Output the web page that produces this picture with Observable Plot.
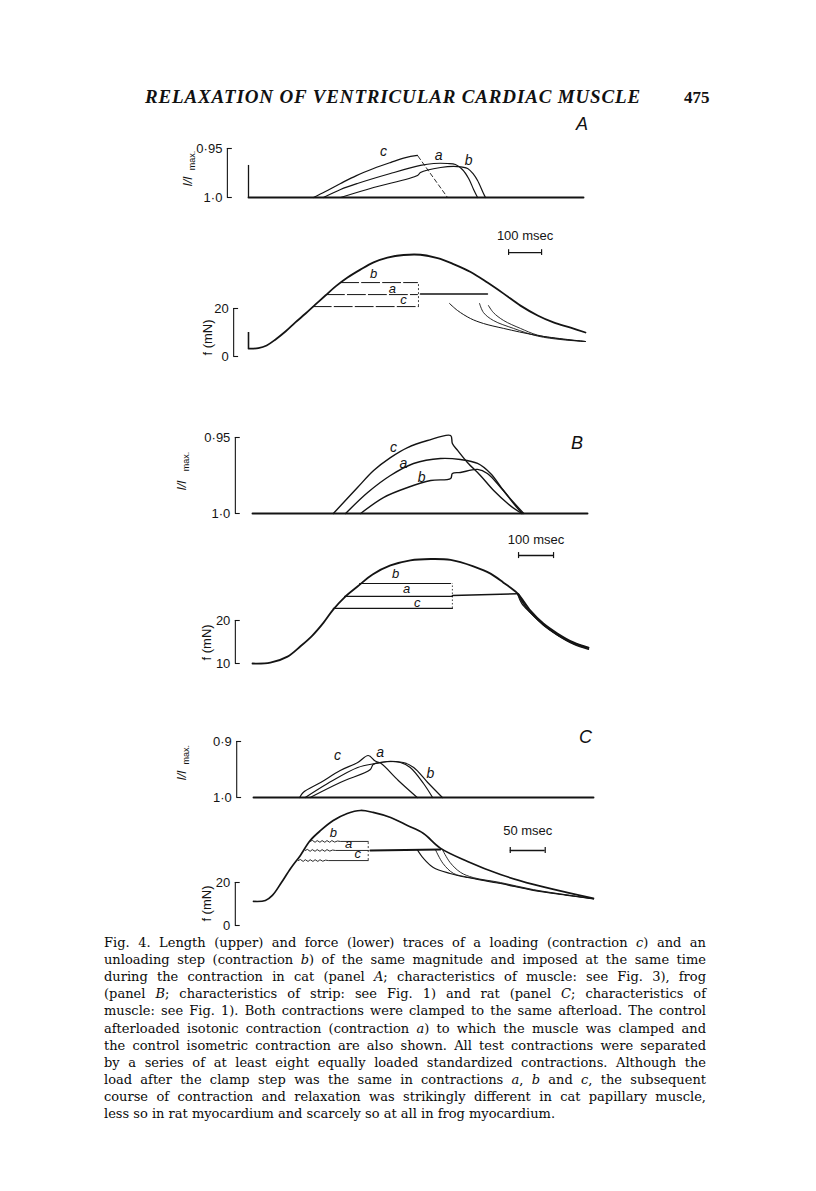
<!DOCTYPE html>
<html><head><meta charset="utf-8">
<script src="https://cdn.jsdelivr.net/npm/d3@7"></script>
<script src="https://cdn.jsdelivr.net/npm/@observablehq/plot@0.6"></script>
<style>
html,body{margin:0;padding:0;background:#fff;}
#page{position:relative;width:816px;height:1191px;overflow:hidden;background:#fff;color:#111;}
.abs{position:absolute;white-space:nowrap;}
.hdr{font-family:"Liberation Serif","DejaVu Serif",serif;font-weight:bold;font-style:italic;font-size:19px;line-height:19px;}
.pno{font-family:"Liberation Serif","DejaVu Serif",serif;font-size:17px;line-height:17px;font-weight:bold;}
.pl{font-family:"Liberation Sans",Arial,sans-serif;font-style:italic;font-size:18px;line-height:18px;}
.cap{font-family:"DejaVu Serif",serif;font-size:13px;line-height:17.1px;left:104px;color:#0a0a0a;}
</style></head><body><div id="page"></div>
<script>
// ---------- DATA (time in ms, length as l/lmax, force in mN) ----------
// Panel A (cat)
const lenA_base = [[0,1],[1015,1]];
const lenA_c = [[197,1],[233,0.9939],[279,0.9857],[327,0.9776],[379,0.9704],[430,0.9643],[476,0.9592],[512,0.9571]];
const lenA_cFall = [[514,0.958],[603,1]];
const lenA_a = [[227,1],[279,0.9918],[330,0.9857],[430,0.9755],[521,0.9673],[561,0.9653],[603,0.9653],[627,0.9663],[648,0.9714],[667,0.9806],[682,0.9918],[694,1]];
const lenA_b = [[279,1],[379,0.9898],[512,0.9776],[521,0.9745],[582,0.9694],[633,0.9684],[664,0.9704],[682,0.9765],[694,0.9827],[712,0.9959],[718,1]];
const lenA_labels = [[409,0.953,"c"],[576,0.957,"a"],[667,0.9622,"b"]];
const forceA_iso = [[0,3.3],[12,3.3],[30,3.5],[55,4.6],[82,7.1],[112,10.4],[142,14.2],[173,17.9],[203,21.7],[233,25.4],[264,29.2],[300,32.9],[339,36.2],[379,39.2],[421,41.2],[470,42.3],[521,42.4],[573,41.0],[621,38.5],[673,35.2],[724,30.8],[773,26.2],[824,21.2],[876,17.1],[924,14.2],[976,12.0],[1021,10]];
const forceA_clampB = [[279,30.8],[512,30.8]];
const forceA_clampA = [[236,25.8],[512,25.8]];
const forceA_clampC = [[196,20.8],[515,20.8]];
const forceA_iso_a = [[521,26],[724,26]];
const forceA_relaxC = [[609,22.1],[633,19.2],[673,15.8],[712,13.75],[773,11.7],[876,8.75],[1021,6.25]];
const forceA_relaxA = [[700,22.1],[712,18.3],[742,15.0],[803,11.7],[876,8.5],[950,7.0],[1021,6.25]];
const forceA_relaxB = [[727,21.25],[742,18.3],[773,15.0],[824,11.7],[876,8.9],[950,7.2],[1021,6.25]];
const forceA_labels = [[379,34.6,"b"],[436,28.3,"a"],[470,23.75,"c"]];

// Panel B (frog)
const lenB_base = [[0,1],[957,1]];
const lenB_c = [[231,1],[300,0.9829],[346,0.9717],[394,0.9632],[443,0.9566],[500,0.952],[566,0.9487],[571,0.9539],[586,0.9585],[614,0.9664],[651,0.975],[689,0.9849],[729,0.9934],[760,0.9987],[770,1]];
const lenB_a = [[266,1],[329,0.9862],[394,0.975],[460,0.9671],[537,0.9638],[594,0.9645],[643,0.9671],[680,0.9737],[717,0.9849],[746,0.9934],[770,1]];
const lenB_b = [[309,1],[374,0.9895],[443,0.9829],[509,0.9783],[566,0.977],[571,0.9737],[594,0.973],[643,0.971],[671,0.9737],[709,0.9829],[746,0.9928],[775,1]];
const lenB_labels = [[403,0.9566,"c"],[431,0.9671,"a"],[483,0.9763,"b"]];
const forceB_iso = [[0,10],[51,10.2],[100,11.6],[137,14.0],[171,16.5],[203,19.5],[231,22.6],[263,25.4],[300,27.9],[343,30.7],[394,32.8],[451,34.0],[509,34.3],[566,34.1],[631,32.6],[680,30.9],[717,28.8],[757,26.3],[794,22.3],[831,19.3],[871,17.0],[917,14.9],[960,13.7]];
const forceB_clampB = [[306,28.6],[566,28.6]];
const forceB_clampA = [[263,25.6],[571,25.6]];
const forceB_clampC = [[231,22.8],[571,22.8]];
const forceB_iso_a = [[571,25.8],[757,26.2]];
const forceB_relaxC = [[757,26.2],[769,24.0],[794,21.8],[831,18.9],[871,16.6],[917,14.5],[960,13.3]];
const forceB_relaxA = [[757,26.2],[774,23.9],[800,21.3],[835,18.7],[875,16.4],[917,14.6],[960,13.5]];
const forceB_relaxB = [[760,26.2],[780,23.3],[806,20.9],[840,18.5],[880,16.3],[920,14.7],[960,13.6]];
const forceB_labels = [[409,30.9,"b"],[440,27.4,"a"],[471,24.2,"c"]];

// Panel C (rat)
const lenC_base = [[0,1],[486,1]];
const lenC_c = [[66,1],[71,0.9911],[96,0.9732],[124,0.9518],[149,0.9375],[164,0.925],[174,0.935],[182,0.939],[207,0.9696],[234,1]];
const lenC_a = [[74,1],[106,0.975],[149,0.9464],[174,0.9393],[191,0.9357],[210,0.9375],[224,0.9464],[243,0.975],[256,1]];
const lenC_b = [[81,1],[124,0.9732],[167,0.95],[171,0.9411],[181,0.9375],[214,0.9375],[229,0.9464],[249,0.9732],[270,1]];
const lenC_labels = [[120,0.925,"c"],[181,0.9196,"a"],[253,0.9571,"b"]];
const forceC_iso = [[0,11.2],[17,11.6],[27,14.0],[39,19.5],[53,26.5],[67,32.6],[81,39.5],[96,44.2],[114,48.8],[134,52.1],[153,53.5],[171,52.6],[196,50.2],[220,46.5],[243,42.8],[267,36.0],[306,29.8],[353,23.7],[400,19.1],[449,15.3],[486,12.6]];
const forceC_clampB = [[81,39.1],[84,39.6],[88,38.7],[91,39.5],[95,38.7],[98,39.5],[102,38.7],[105,39.5],[109,38.7],[112,39.5],[116,38.8],[120,39.3],[124,39.1],[164,39.1]];
const forceC_clampA = [[74,34.9],[77,35.4],[81,34.5],[84,35.3],[88,34.5],[91,35.3],[95,34.5],[98,35.3],[102,34.5],[105,35.3],[109,34.6],[113,35.1],[117,34.9],[164,34.9]];
const forceC_clampC = [[64,30.2],[67,30.7],[71,29.8],[74,30.6],[78,29.8],[81,30.6],[85,29.8],[88,30.6],[92,29.8],[95,30.6],[99,29.9],[103,30.4],[107,30.2],[164,30.2]];
const forceC_iso_a = [[167,34.9],[267,35.3]];
const forceC_relaxC = [[234,35.3],[243,31.2],[257,27.0],[281,24.2],[306,22.3],[353,19.5],[400,16.3],[449,14.0],[486,12.3]];
const forceC_relaxA = [[260,35.3],[271,28.8],[286,24.2],[306,22.5],[353,19.7],[400,16.5],[449,14.1],[486,12.4]];
const forceC_relaxB = [[270,35.3],[281,29.3],[296,24.7],[314,22.3],[353,20.0],[400,16.7],[449,14.2],[486,12.5]];
const forceC_labels = [[114,43.3,"b"],[136,38.1,"a"],[149,33.5,"c"]];

// Tick labels
const lenTicksAB = ["1·0","0·95"];
const lenTicksC = ["1·0","0·9"];
const forceTicksA = ["0","20"];
const forceTicksB = ["10","20"];
const forceTicksC = ["0","20"];

const captionLines = [
 "Fig. 4. Length (upper) and force (lower) traces of a loading (contraction <i>c</i>) and an",
 "unloading step (contraction <i>b</i>) of the same magnitude and imposed at the same time",
 "during the contraction in cat (panel <i>A</i>; characteristics of muscle: see Fig. 3), frog",
 "(panel <i>B</i>; characteristics of strip: see Fig. 1) and rat (panel <i>C</i>; characteristics of",
 "muscle: see Fig. 1). Both contractions were clamped to the same afterload. The control",
 "afterloaded isotonic contraction (contraction <i>a</i>) to which the muscle was clamped and",
 "the control isometric contraction are also shown. All test contractions were separated",
 "by a series of at least eight equally loaded standardized contractions. Although the",
 "load after the clamp step was the same in contractions <i>a</i>, <i>b</i> and <i>c</i>, the subsequent",
 "course of contraction and relaxation was strikingly different in cat papillary muscle,",
 "less so in rat myocardium and scarcely so at all in frog myocardium."
];

// ---------- DRAWING ----------
const ink = "#141414";
const W = 816;
const page = document.getElementById("page");

function trace({top, height, px0, px1, pyLo, pyHi, xDomain, yDomain, marks}) {
  const svg = Plot.plot({
    width: W, height,
    marginLeft: px0, marginRight: W - px1,
    marginTop: pyHi - top, marginBottom: top + height - pyLo,
    x: {domain: xDomain, axis: null},
    y: {domain: yDomain, axis: null},
    style: {background: "transparent", overflow: "visible", color: ink,
            fontFamily: "'Liberation Sans', Arial, sans-serif", fontSize: "13px"},
    marks
  });
  svg.style.position = "absolute";
  svg.style.left = "0px";
  svg.style.top = top + "px";
  page.appendChild(svg);
}
const L = (data, o = {}) => Plot.line(data, {x: d => d[0], y: d => d[1], stroke: ink, strokeWidth: 1.2, curve: "catmull-rom", ...o});
const labs = (data, o = {}) => Plot.text(data, {x: d => d[0], y: d => d[1], text: d => d[2], fontStyle: "italic", fontSize: 14, fill: ink, ...o});
function bracket(tb, lo, hi, serif, labels) {
  return [
    Plot.ruleX([tb], {y1: lo, y2: hi, stroke: ink, strokeWidth: 1.1}),
    Plot.ruleY([lo, hi], {y: d => d, x1: tb, x2: tb + serif, stroke: ink, strokeWidth: 1.1}),
    Plot.text([lo, hi], {x: tb, y: d => d, text: (d, i) => labels[i], textAnchor: "end", dx: -5, fontSize: 13, fill: ink})
  ];
}
function scaleBar(t0, len, y, h, label, ty) {
  return [
    Plot.ruleY([y], {y: d => d, x1: t0, x2: t0 + len, stroke: ink, strokeWidth: 1.4}),
    Plot.ruleX([t0, t0 + len], {x: d => d, y1: y - h, y2: y + h, stroke: ink, strokeWidth: 1.2}),
    Plot.text([label], {x: t0 + len / 2, y: ty, text: d => d, fontSize: 13, fill: ink})
  ];
}
function lenTitle(t, yl, ym) {
  return [
    Plot.text(["l/l"], {x: t, y: yl, text: d => d, rotate: -90, fontStyle: "italic", fontSize: 13, fill: ink}),
    Plot.text(["max."], {x: t, y: ym, text: d => d, rotate: -90, fontSize: 9, dx: 5, fill: ink})
  ];
}
function forceTitle(t, y) {
  return [Plot.text(["f (mN)"], {x: t, y, text: d => d, rotate: -90, fontSize: 13, fill: ink})];
}

// Panel A length
trace({top: 115, height: 95, px0: 248, px1: 583, pyLo: 197, pyHi: 148, xDomain: [0, 1015], yDomain: [1.0, 0.95], marks: [
  ...bracket(-64, 1.0, 0.95, 15, lenTicksAB),
  ...lenTitle(-185, 0.9837, 0.9622),
  Plot.ruleX([0], {y1: 1.0, y2: 0.9673, stroke: ink, strokeWidth: 1.3}),
  L(lenA_base, {strokeWidth: 1.9, curve: "linear"}),
  L(lenA_c, {strokeWidth: 1.3}),
  L(lenA_a, {strokeWidth: 1.2}),
  L(lenA_b, {strokeWidth: 1.2}),
  L(lenA_cFall, {strokeWidth: 0.9, strokeDasharray: "4,3", curve: "linear"}),
  labs(lenA_labels)
]});
// Panel A force
trace({top: 222, height: 150, px0: 248, px1: 583, pyLo: 356, pyHi: 308, xDomain: [0, 1015], yDomain: [0, 20], marks: [
  ...bracket(-45, 0, 20, 15, forceTicksA),
  ...forceTitle(-124, 7.9),
  Plot.ruleX([0], {y1: 3.3, y2: 10, stroke: ink, strokeWidth: 1.6}),
  L(forceA_iso, {strokeWidth: 1.8}),
  L(forceA_clampB, {strokeWidth: 1, strokeDasharray: "18,3", curve: "linear"}),
  L(forceA_clampA, {strokeWidth: 1, strokeDasharray: "18,3", curve: "linear"}),
  L(forceA_clampC, {strokeWidth: 1, strokeDasharray: "18,3", curve: "linear"}),
  Plot.ruleX([515], {y1: 20.8, y2: 30.8, stroke: ink, strokeWidth: 0.8, strokeDasharray: "2,2"}),
  L(forceA_iso_a, {strokeWidth: 1.5, curve: "linear"}),
  L(forceA_relaxC, {strokeWidth: 1}),
  L(forceA_relaxA, {strokeWidth: 0.9}),
  L(forceA_relaxB, {strokeWidth: 0.9}),
  labs(forceA_labels, {fontSize: 13}),
  ...scaleBar(788, 100, 43.3, 1.2, "100 msec", 50.4)
]});
// Panel B length
trace({top: 425, height: 100, px0: 252, px1: 587, pyLo: 513, pyHi: 437, xDomain: [0, 957], yDomain: [1.0, 0.95], marks: [
  ...bracket(-49, 1.0, 0.95, 14, lenTicksAB),
  ...lenTitle(-203, 0.9816, 0.9658),
  L(lenB_base, {strokeWidth: 1.9, curve: "linear"}),
  L(lenB_c, {strokeWidth: 1.4}),
  L(lenB_a, {strokeWidth: 1.4}),
  L(lenB_b, {strokeWidth: 1.4}),
  labs(lenB_labels)
]});
// Panel B force
trace({top: 528, height: 150, px0: 252, px1: 587, pyLo: 663, pyHi: 620, xDomain: [0, 957], yDomain: [10, 20], marks: [
  ...bracket(-49, 10, 20, 14, forceTicksB),
  ...forceTitle(-131, 14.9),
  L(forceB_iso, {strokeWidth: 1.8}),
  L(forceB_clampB, {strokeWidth: 1.2, curve: "linear"}),
  L(forceB_clampA, {strokeWidth: 1.2, curve: "linear"}),
  L(forceB_clampC, {strokeWidth: 1.2, curve: "linear"}),
  Plot.ruleX([571], {y1: 22.8, y2: 28.6, stroke: ink, strokeWidth: 0.8, strokeDasharray: "1.5,2"}),
  L(forceB_iso_a, {strokeWidth: 1.5, curve: "linear"}),
  L(forceB_relaxC, {strokeWidth: 1.2}),
  L(forceB_relaxA, {strokeWidth: 1.2}),
  L(forceB_relaxB, {strokeWidth: 1.2}),
  labs(forceB_labels, {fontSize: 13}),
  ...scaleBar(760, 100, 35.1, 0.7, "100 msec", 38.8)
]});
// Panel C length
trace({top: 728, height: 82, px0: 253, px1: 593, pyLo: 797, pyHi: 741, xDomain: [0, 486], yDomain: [1.0, 0.9], marks: [
  ...bracket(-24, 1.0, 0.9, 7, lenTicksC),
  ...lenTitle(-103, 0.9607, 0.9236),
  L(lenC_base, {strokeWidth: 1.9, curve: "linear"}),
  L(lenC_c, {strokeWidth: 1.2}),
  L(lenC_a, {strokeWidth: 1.2}),
  L(lenC_b, {strokeWidth: 1.2}),
  labs(lenC_labels)
]});
// Panel C force
trace({top: 810, height: 130, px0: 253, px1: 593, pyLo: 925, pyHi: 882, xDomain: [0, 486], yDomain: [0, 20], marks: [
  ...bracket(-26, 0, 20, 7, forceTicksC),
  ...forceTitle(-66, 10.2),
  L(forceC_iso, {strokeWidth: 1.7}),
  L(forceC_clampB, {strokeWidth: 0.9, curve: "linear"}),
  L(forceC_clampA, {strokeWidth: 0.9, curve: "linear"}),
  L(forceC_clampC, {strokeWidth: 0.9, curve: "linear"}),
  Plot.ruleX([164], {y1: 30.2, y2: 39.1, stroke: ink, strokeWidth: 0.8, strokeDasharray: "2,2"}),
  L(forceC_iso_a, {strokeWidth: 2, curve: "linear"}),
  L(forceC_relaxC, {strokeWidth: 1.1}),
  L(forceC_relaxA, {strokeWidth: 0.9}),
  L(forceC_relaxB, {strokeWidth: 0.9}),
  labs(forceC_labels, {fontSize: 13}),
  ...scaleBar(367, 50, 34.9, 1.4, "50 msec", 44.2)
]});

// ---------- TEXT ----------
function addDiv(cls, html, left, top) {
  const d = document.createElement("div");
  d.className = "abs " + cls;
  d.style.left = left + "px"; d.style.top = top + "px";
  d.innerHTML = html;
  page.appendChild(d);
  return d;
}
const hdr = addDiv("hdr", "<span>RELAXATION OF VENTRICULAR CARDIAC MUSCLE</span>", 145, 87);
addDiv("pno", "475", 684, 89);
addDiv("pl", "A", 576, 115);
addDiv("pl", "B", 571, 434);
addDiv("pl", "C", 579, 728);
const capDivs = captionLines.map((s, i) => addDiv("cap", "<span>" + s + "</span>", 104, 934 + i * 17.1));

function fit() {
  const hs = hdr.firstChild;
  const nat = hs.getBoundingClientRect().width;
  const n = hs.textContent.length;
  hs.style.letterSpacing = ((496 - nat) / n) + "px";
  capDivs.forEach((d, i) => {
    if (i === capDivs.length - 1) return;
    const sp = d.firstChild;
    const w = sp.getBoundingClientRect().width;
    const spaces = (sp.textContent.match(/ /g) || []).length;
    sp.style.wordSpacing = ((602 - w) / spaces) + "px";
  });
}
if (document.fonts && document.fonts.ready) document.fonts.ready.then(fit); else fit();
</script></body></html>
